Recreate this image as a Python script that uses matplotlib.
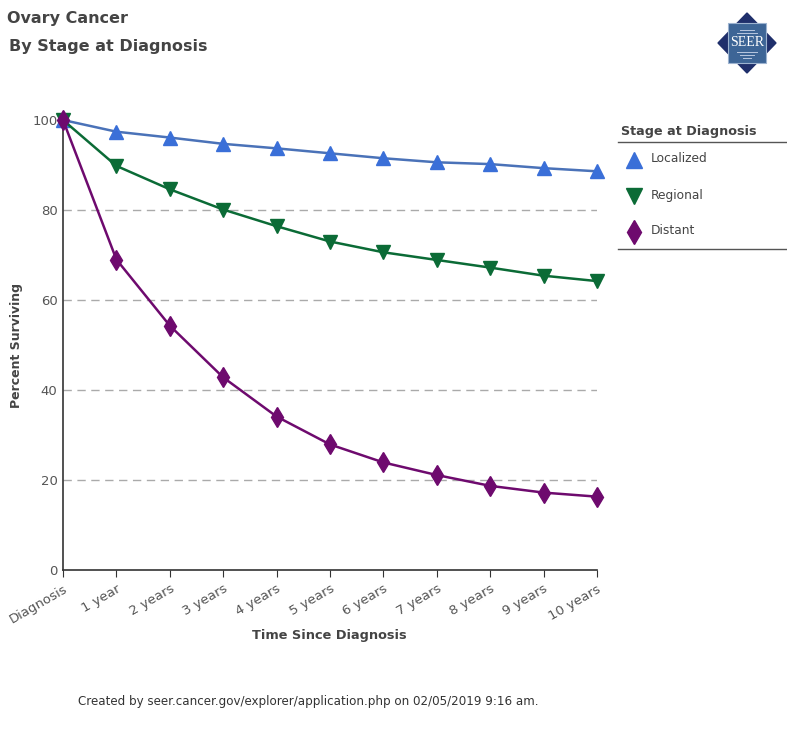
import matplotlib
matplotlib.use("Agg")
import matplotlib.pyplot as plt
from matplotlib.patches import Polygon, Rectangle
from matplotlib.lines import Line2D

categories = ["Diagnosis", "1 year", "2 years", "3 years", "4 years", "5 years",
              "6 years", "7 years", "8 years", "9 years", "10 years"]
localized = [100, 97.4, 96.1, 94.7, 93.7, 92.6, 91.5, 90.6, 90.2, 89.3, 88.6]
regional = [100, 89.8, 84.6, 80.1, 76.4, 73.0, 70.6, 68.9, 67.2, 65.4, 64.2]
distant = [100, 69.0, 54.3, 42.8, 34.1, 27.9, 23.9, 21.1, 18.7, 17.2, 16.3]
series_names = ["Localized", "Regional", "Distant"]
yticks = [0, 20, 40, 60, 80, 100]

plt.rcParams['font.family'] = ['DejaVu Sans']
W, H = 787, 739
fig = plt.figure(figsize=(W / 100, H / 100), dpi=100)
fig.patch.set_facecolor("white")

def fx(px):
    return px / W

def fy(py):
    return 1 - py / H

ax = fig.add_axes([fx(63), fy(570), fx(597) - fx(63), fy(113) - fy(570)])
x = list(range(len(categories)))

styles = [
    (localized, "#4a72b8", "#3a6fd8", "^", 10),
    (regional, "#0b6b36", "#0b6b36", "v", 10),
    (distant, "#6e0a6e", "#6e0a6e", "d", 10.5),
]
for (vals, lc, mc, mk, ms), name in zip(styles, series_names):
    ax.plot(x, vals, color=lc, lw=1.8, marker=mk, markersize=ms,
            markerfacecolor=mc, markeredgecolor=mc, label=name, zorder=3, clip_on=False)

ax.set_xlim(0, len(categories) - 1)
ax.set_ylim(0, 100 * (570 - 113) / 450)
ax.set_yticks(yticks)
ax.set_yticklabels([str(v) for v in yticks], color="#555555", fontsize=9.5)
for v in yticks[1:-1]:
    ax.axhline(v, color="#aaaaaa", lw=1, ls=(0, (6, 4)), zorder=1)

ax.set_xticks(x)
ax.set_xticklabels(categories, rotation=30, ha="right", rotation_mode="anchor",
                   color="#555555", fontsize=9.5)
ax.tick_params(axis="x", direction="out", length=5, color="#333333", pad=4)
ax.tick_params(axis="y", length=0, pad=4)

for s in ["top", "right"]:
    ax.spines[s].set_visible(False)
ax.spines["left"].set_color("#333333")
ax.spines["bottom"].set_color("#333333")
ax.spines["left"].set_linewidth(1.2)
ax.spines["bottom"].set_linewidth(1.2)
ax.set_facecolor("white")

# axis titles
fig.text(fx(329), fy(635), "Time Since Diagnosis", ha="center", va="center",
         fontsize=9.3, fontweight="bold", color="#444444")
fig.text(fx(17), fy(346), "Percent Surviving", ha="center", va="center", rotation=90,
         fontsize=9, fontweight="bold", color="#444444")

# title
fig.text(fx(7), fy(19), "Ovary Cancer", ha="left", va="center", fontsize=11.5,
         fontweight="bold", color="#444444")
fig.text(fx(9), fy(46), "By Stage at Diagnosis", ha="left", va="center", fontsize=11.5,
         fontweight="bold", color="#444444")

# footer
fig.text(fx(308), fy(702), "Created by seer.cancer.gov/explorer/application.php on 02/05/2019 9:16 am.",
         ha="center", va="center", fontsize=8.6, color="#333333")

# legend
fig.text(fx(621), fy(131), "Stage at Diagnosis", ha="left", va="center", fontsize=9.2,
         fontweight="bold", color="#444444")
fig.add_artist(Line2D([fx(618), fx(787)], [fy(142), fy(142)], color="#555555", lw=1,
                      transform=fig.transFigure))
fig.add_artist(Line2D([fx(618), fx(787)], [fy(249), fy(249)], color="#555555", lw=1,
                      transform=fig.transFigure))
for i, ((vals, lc, mc, mk, ms), name) in enumerate(zip(styles, series_names)):
    yy = 159 + 36 * i
    fig.add_artist(Line2D([fx(634)], [fy(yy + 1)], marker=mk, markersize=12,
                          markerfacecolor=mc, markeredgecolor=mc, linestyle="none",
                          transform=fig.transFigure))
    fig.text(fx(651), fy(yy), name, ha="left", va="center", fontsize=8.8, color="#444444")

# SEER logo
cx, cy = 747, 43
dia = Polygon([(fx(cx), fy(cy - 30)), (fx(cx + 29), fy(cy)), (fx(cx), fy(cy + 30)),
               (fx(cx - 29), fy(cy))], closed=True, transform=fig.transFigure,
              facecolor="#1f2f6b", edgecolor="#1f2f6b")
fig.add_artist(dia)
sq = Rectangle((fx(cx - 19), fy(cy + 20)), fx(38), fy(0) - fy(40), transform=fig.transFigure,
               facecolor="#3d6596", edgecolor="#9db3d0", lw=0.8)
fig.add_artist(sq)
for dy, hw in [(-13, 7), (-10, 10), (9, 10), (12, 7), (15, 4)]:
    fig.add_artist(Line2D([fx(cx - hw), fx(cx + hw)], [fy(cy + dy), fy(cy + dy)],
                          color="#b8c8e0", lw=0.7, transform=fig.transFigure))
fig.text(fx(cx), fy(cy), "SEER", ha="center", va="center", fontsize=10,
         family="Liberation Serif", color="white")

fig.savefig("out.png", dpi=100, facecolor="white")
